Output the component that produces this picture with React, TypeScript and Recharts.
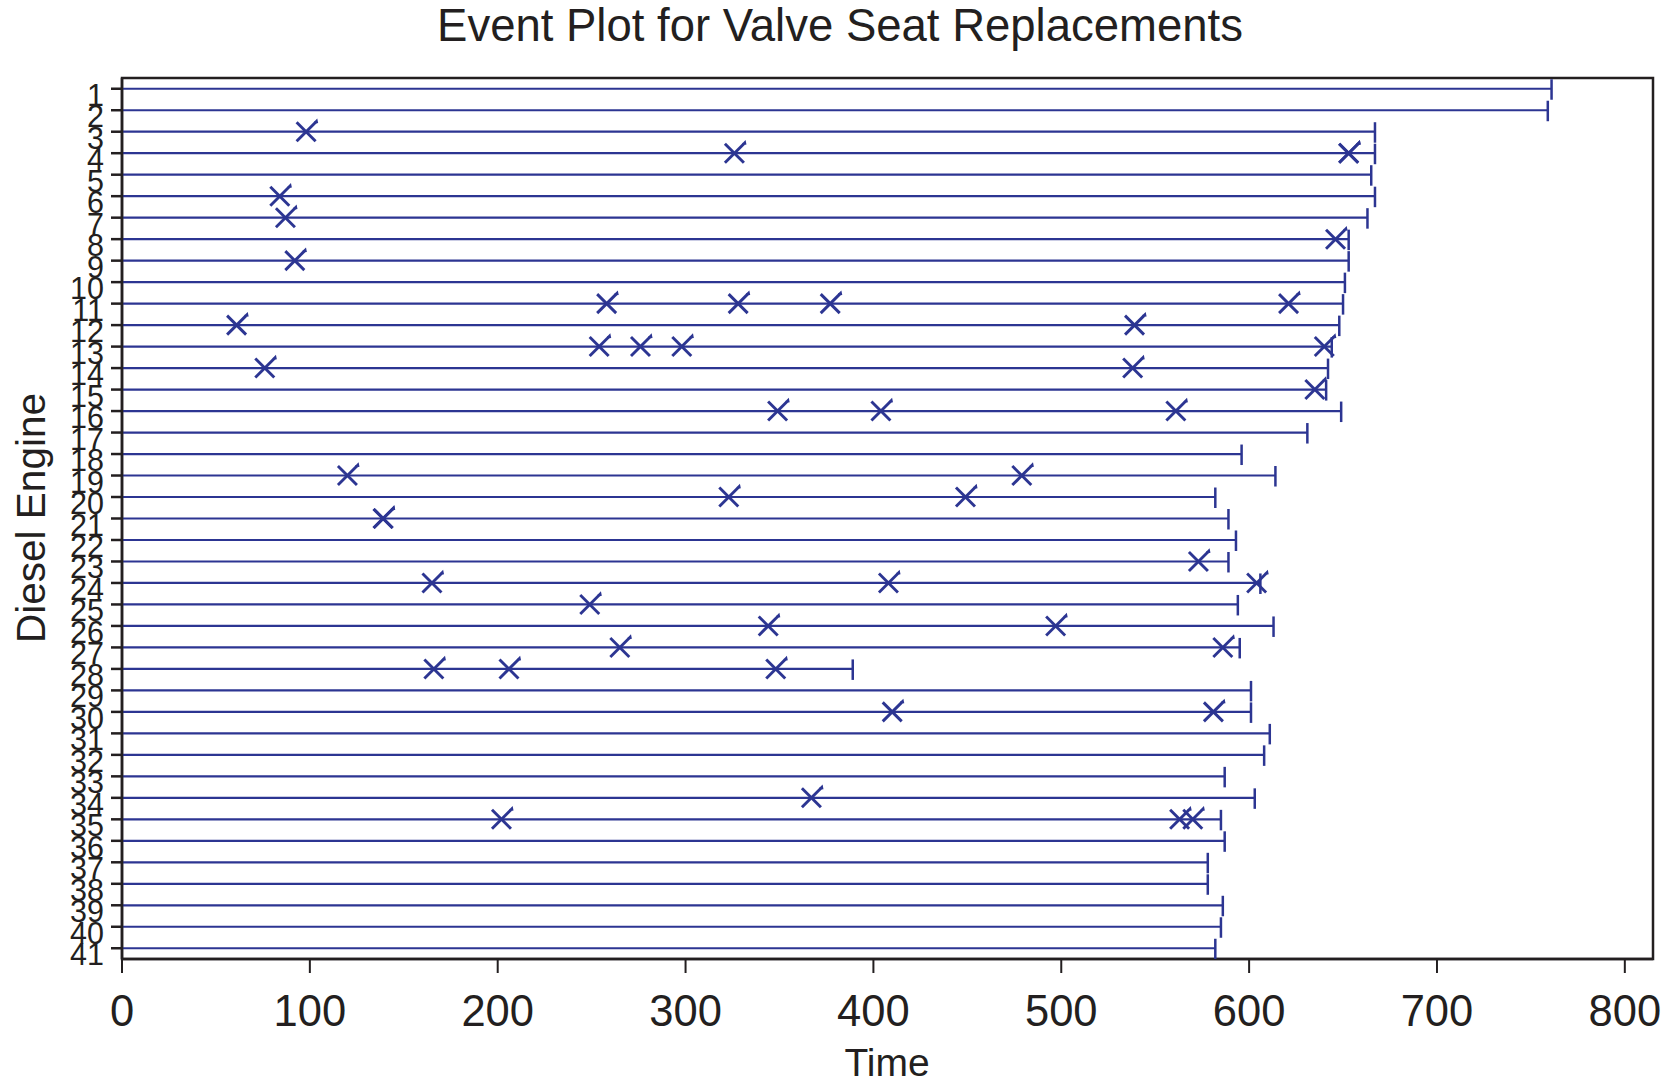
import React from 'react';
import { ScatterChart, Scatter, XAxis, YAxis, ReferenceLine, ReferenceArea } from 'recharts';

const engineTicks = [1, 2, 3, 4, 5, 6, 7, 8, 9, 10, 11, 12, 13, 14, 15, 16, 17, 18, 19, 20, 21, 22, 23, 24, 25, 26, 27, 28, 29, 30, 31, 32, 33, 34, 35, 36, 37, 38, 39, 40, 41];
const timeTicks = [0, 100, 200, 300, 400, 500, 600, 700, 800];

// censoring (end-of-observation) times, one per engine
const endTimes = [761, 759, 667, 667, 665, 667, 663, 653, 653, 651, 650, 648, 644, 642, 641, 649, 631, 596, 614, 582, 589, 593, 589, 606, 594, 613, 595, 389, 601, 601, 611, 608, 587, 603, 585, 587, 578, 578, 586, 585, 582];

// valve seat replacement times, one list per engine
const eventTimes: number[][] = [
  [], [], [98], [326, 653, 653], [], [84], [87], [646], [92], [],
  [258, 328, 377, 621], [61, 539], [254, 276, 298, 640], [76, 538], [635], [349, 404, 561], [], [], [120, 479], [323, 449],
  [139, 139], [], [573], [165, 408, 604], [249], [344, 497], [265, 586], [166, 206, 348], [], [410, 581],
  [], [], [], [367], [202, 563, 570], [], [], [], [], [], [],
];

const LINE = '#2c3592';
const INK = '#231f20';
const FONT = '"Liberation Sans", Arial, sans-serif';

const endPoints = endTimes.map((t, i) => ({ x: t, y: engineTicks[i] }));
const eventPoints = eventTimes.flatMap((arr, i) => arr.map((t) => ({ x: t, y: engineTicks[i] })));

const EndCap = (props: any) => {
  const { cx, cy } = props;
  if (cx == null || cy == null) return null;
  return <line x1={cx} x2={cx} y1={cy - 9.5} y2={cy + 11} stroke={LINE} strokeWidth={2.5} />;
};

const XMark = (props: any) => {
  const { cx, cy } = props;
  if (cx == null || cy == null) return null;
  const h = 9.5;
  return (
    <g stroke={LINE} strokeWidth={2.9} fill="none">
      <line x1={cx - h} y1={cy - h} x2={cx + h} y2={cy + h} />
      <line x1={cx - h} y1={cy + h} x2={cx + h} y2={cy - h} />
      <polyline points={`${cx + h - 1},${cy - h + 0.5} ${cx + h + 1},${cy - h - 1.5} ${cx + h + 1.5},${cy - h + 1}`} strokeWidth={2.2} />
    </g>
  );
};

const YTick = (props: any) => {
  const { x, y, payload } = props;
  return (
    <text x={x} y={y + 17} textAnchor="end" fontSize={30.5} fontFamily={FONT} fill={INK}>
      {payload.value}
    </text>
  );
};

const XTick = (props: any) => {
  const { x, y, payload } = props;
  return (
    <text x={x} y={y + 51} textAnchor="middle" fontSize={43.5} fontFamily={FONT} fill={INK}>
      {payload.value}
    </text>
  );
};

export default function App() {
  return (
    <div style={{ position: 'absolute', left: 0, top: 0, width: 1674, height: 1083, background: '#fff' }}>
      <ScatterChart width={1674} height={1083} margin={{ top: 78, right: 21, bottom: 0, left: 0 }}>
        <XAxis
          type="number"
          dataKey="x"
          domain={[0, 815]}
          ticks={timeTicks}
          allowDataOverflow
          height={124}
          axisLine={{ stroke: INK, strokeWidth: 2.5 }}
          tickLine={{ stroke: INK, strokeWidth: 2 }}
          tickSize={14}
          tickMargin={2}
          tick={<XTick />}
          interval={0}
        />
        <YAxis
          type="number"
          dataKey="y"
          domain={[0.5, 41.5]}
          reversed
          ticks={engineTicks}
          allowDataOverflow
          width={122}
          axisLine={{ stroke: INK, strokeWidth: 2.5 }}
          tickLine={{ stroke: INK, strokeWidth: 2.5 }}
          tickSize={11}
          tickMargin={7}
          tick={<YTick />}
          interval={0}
        />
        <ReferenceArea x1={0} x2={815} y1={0.5} y2={41.5} fill="none" stroke={INK} strokeWidth={2.5} ifOverflow="visible" />
        {endTimes.map((t, i) => (
          <ReferenceLine
            key={`l${i}`}
            segment={[{ x: 0, y: engineTicks[i] }, { x: t, y: engineTicks[i] }]}
            stroke={LINE}
            strokeWidth={2.2}
            ifOverflow="visible"
          />
        ))}
        <Scatter data={endPoints} shape={<EndCap />} isAnimationActive={false} />
        <Scatter data={eventPoints} shape={<XMark />} isAnimationActive={false} />
        <text x={840} y={40.5} textAnchor="middle" fontSize={45.5} fontFamily={FONT} fill={INK}>
          Event Plot for Valve Seat Replacements
        </text>
        <text x={887} y={1076} textAnchor="middle" fontSize={39} fontFamily={FONT} fill={INK}>
          Time
        </text>
        <text transform="rotate(-90)" x={-518} y={45} textAnchor="middle" fontSize={40.5} fontFamily={FONT} fill={INK}>
          Diesel Engine
        </text>
      </ScatterChart>
    </div>
  );
}
